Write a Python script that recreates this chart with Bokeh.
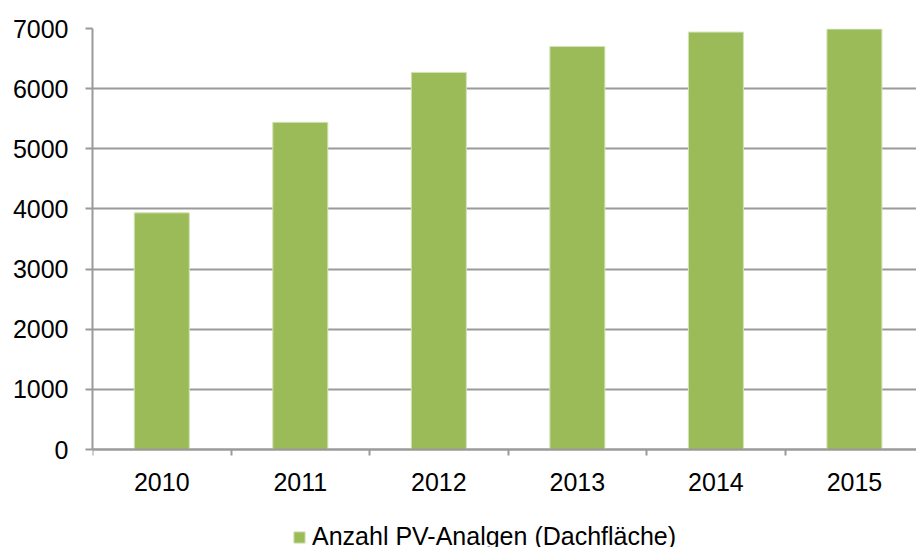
from bokeh.plotting import figure
from bokeh.models import Range1d, FixedTicker, Legend, LegendItem, ColumnDataSource
from bokeh.embed import file_html
from bokeh.resources import INLINE

years = ["2010", "2011", "2012", "2013", "2014", "2015"]
anlagen = [3935, 5440, 6270, 6700, 6940, 6990]
y_ticks = [0, 1000, 2000, 3000, 4000, 5000, 6000, 7000]
series_name = "Anzahl PV-Analgen (Dachfläche)"

xpos = [i + 0.5 for i in range(len(years))]
src = ColumnDataSource(dict(x=xpos, top=anlagen))

FONT = "Liberation Sans"
GRID = "#9a9a9a"

# layout: value range 0..7000 occupies 421 px; frame extends below zero
# so that the legend can sit inside the frame area under the axis.
VAL_PX = 421
EXTRA_PX = 111
y_max = y_ticks[-1]
y_min = -EXTRA_PX * y_max / VAL_PX

p = figure(output_backend="svg", toolbar_location=None,
           frame_width=824, frame_height=VAL_PX + EXTRA_PX,
           min_border_left=92, min_border_right=0, min_border_top=28,
           min_border_bottom=0,
           x_range=Range1d(0, 5.948), y_range=Range1d(y_min, y_max))
p.outline_line_color = None
p.background_fill_color = "white"
p.border_fill_color = "white"

r = p.vbar(x="x", top="top", width=0.397, bottom=0, source=src,
           fill_color="#9BBB59", line_color="#d2e2b5", line_width=1)

# x axis drawn at value 0
xa = p.xaxis[0]
xa.fixed_location = 0
xa.ticker = FixedTicker(ticks=xpos, minor_ticks=list(range(len(years) + 1)))
xa.major_label_overrides = {x: y for x, y in zip(xpos, years)}
xa.major_tick_out = 0
xa.major_tick_in = 0
xa.minor_tick_out = 6
xa.minor_tick_in = 0
xa.minor_tick_line_color = GRID
xa.minor_tick_line_width = 2
xa.axis_line_color = GRID
xa.axis_line_width = 2
xa.major_label_text_font = FONT
xa.major_label_text_font_size = "25px"
xa.major_label_text_color = "black"
xa.major_label_standoff = 17

# y axis
ya = p.yaxis[0]
ya.bounds = (0, y_max)
ya.ticker = FixedTicker(ticks=y_ticks)
ya.minor_tick_line_color = None
ya.major_tick_out = 7
ya.major_tick_in = 0
ya.major_tick_line_color = GRID
ya.major_tick_line_width = 2
ya.axis_line_color = GRID
ya.axis_line_width = 2
ya.major_label_text_font = FONT
ya.major_label_text_font_size = "25px"
ya.major_label_text_color = "black"
ya.major_label_standoff = 17

p.xgrid.grid_line_color = None
p.ygrid.ticker = FixedTicker(ticks=y_ticks)
p.ygrid.grid_line_color = GRID
p.ygrid.grid_line_width = 2

legend = Legend(items=[LegendItem(label=series_name, renderers=[r])],
                location=(200, 9), orientation="horizontal",
                padding=0, margin=0, spacing=0,
                border_line_color=None, background_fill_alpha=0,
                glyph_width=14, glyph_height=14, label_standoff=6,
                label_text_font=FONT, label_text_font_size="25px",
                label_text_color="black")
p.add_layout(legend, "center")

open("out.html", "w").write(file_html(p, INLINE))
